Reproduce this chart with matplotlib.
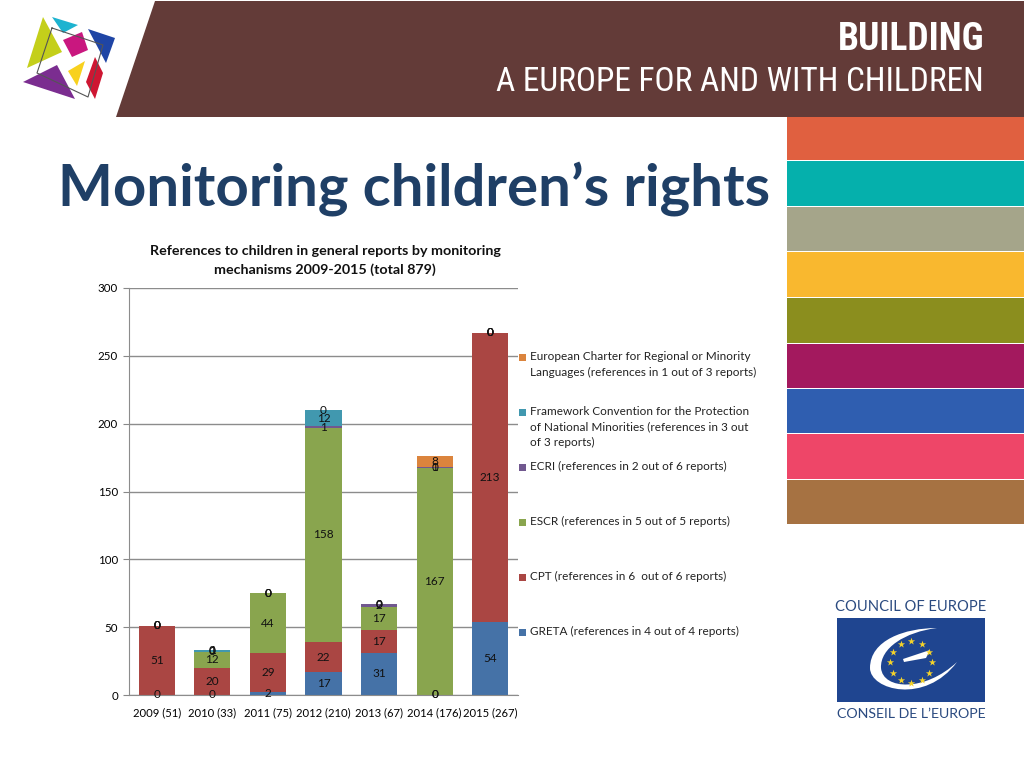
import numpy as np
import matplotlib
matplotlib.use('Agg')
import matplotlib.pyplot as plt
from matplotlib.patches import Polygon, Rectangle, PathPatch
from matplotlib.path import Path

plt.rcParams['font.family'] = ['Lato', 'DejaVu Sans']

categories = ['2009 (51)', '2010 (33)', '2011 (75)', '2012 (210)', '2013 (67)', '2014 (176)', '2015 (267)']
greta = [0, 0, 2, 17, 31, 0, 54]
cpt = [51, 20, 29, 22, 17, 0, 213]
escr = [0, 12, 44, 158, 17, 167, 0]
ecri = [0, 0, 0, 1, 2, 1, 0]
fcnm = [0, 1, 0, 12, 0, 0, 0]
ecrml = [0, 0, 0, 0, 0, 8, 0]

series = [greta, cpt, escr, ecri, fcnm, ecrml]
colors = ['#4572A7', '#AA4643', '#89A54E', '#71588F', '#4198AF', '#DB843D']
legend_labels = [
    'GRETA (references in 4 out of 4 reports)',
    'CPT (references in 6  out of 6 reports)',
    'ESCR (references in 5 out of 5 reports)',
    'ECRI (references in 2 out of 6 reports)',
    'Framework Convention for the Protection\nof National Minorities (references in 3 out\nof 3 reports)',
    'European Charter for Regional or Minority\nLanguages (references in 1 out of 3 reports)',
]
legend_y = [632, 577, 522, 467, 412, 357]

swatch_colors = ['#E06040', '#05B0AC', '#A5A58A', '#F9B82F', '#8B8E1E',
                 '#A3195E', '#2F5EB0', '#EE4668', '#A67242']
swatch_edges = [117, 161, 207, 252, 298, 344, 389, 434, 480, 525]

fig = plt.figure(figsize=(10.24, 7.68), dpi=100)

# page decoration, in pixel coordinates
bg = fig.add_axes([0, 0, 1, 1])
bg.set_xlim(0, 1024)
bg.set_ylim(768, 0)
bg.axis('off')

bg.add_patch(Polygon([(155, 1), (1024, 1), (1024, 117), (116, 117)], color='#633B38', lw=0))
for i, c in enumerate(swatch_colors):
    bg.add_patch(Rectangle((787, swatch_edges[i]), 237, swatch_edges[i + 1] - swatch_edges[i] - 1, color=c, lw=0))

# tangram logo
bg.plot([52, 103, 88, 37, 52], [28, 45, 97, 73, 28], color='#555555', lw=0.8)
logo = [
    ('#C4CF1A', [(43, 17), (62, 52), (27, 68)]),
    ('#1DB3D0', [(52, 17), (78, 25), (63, 33)]),
    ('#C9177F', [(63, 40), (82, 32), (88, 50), (72, 57)]),
    ('#1F45A5', [(88, 29), (115, 38), (106, 63)]),
    ('#F8D11E', [(85, 61), (68, 71), (77, 86)]),
    ('#CE1632', [(95, 57), (103, 73), (95, 99), (86, 82)]),
    ('#7B2D90', [(23, 82), (57, 65), (75, 99)]),
]
for c, pts in logo:
    bg.add_patch(Polygon(pts, color=c, lw=0))

bg.text(984, 50, 'BUILDING', color='white', fontsize=27, fontweight='bold',
        family=['Roboto Condensed', 'Lato'], ha='right', va='baseline')
bg.text(984, 91, 'A EUROPE FOR AND WITH CHILDREN', color='white', fontsize=24,
        family=['Roboto Condensed', 'Lato'], ha='right', va='baseline')

bg.text(58, 189, 'Monitoring children\u2019s rights', color='#1F3F66', fontsize=41.9,
        fontweight='bold', ha='left', va='center')

# Council of Europe logo
bg.text(911, 607, 'COUNCIL OF EUROPE', color='#2A4A80', fontsize=10.6, ha='center', va='center')
bg.text(911, 714, 'CONSEIL DE L\u2019EUROPE', color='#2A4A80', fontsize=10.2, ha='center', va='center')
bg.add_patch(Rectangle((837, 618), 148, 84, color='#1F4590', lw=0))
crescent = Path(
    [(937, 628), (905, 628), (870, 640), (870, 668), (870, 690), (925, 705), (957, 662),
     (925, 692), (883, 690), (881, 668), (880, 648), (905, 632), (937, 628)],
    [Path.MOVETO] + [Path.CURVE4] * 12)
bg.add_patch(PathPatch(crescent, color='white', lw=0))
bg.add_patch(Polygon([(903, 659), (930, 650), (926, 658), (904, 662)], color='white', lw=0))
ang = np.deg2rad(np.arange(0, 360, 30))
bg.scatter(911 + 21 * np.cos(ang), 662 + 21 * np.sin(ang), marker='*', s=30, color='#F4D22A', lw=0, zorder=3)

# legend, one entry at a time because the gaps are uneven
for label, y, c in zip(legend_labels, legend_y, colors):
    bg.add_patch(Rectangle((519, y - 3.5), 7, 7, color=c, lw=0))
    bg.text(529.5, y - 6, label, fontsize=8.5, color='#222222', va='top', ha='left', linespacing=1.5)

# the chart
ax = fig.add_axes([129 / 1024, (768 - 695) / 768, 389 / 1024, 407 / 768])
ax.patch.set_alpha(0)
x = np.arange(len(categories))
bottom = np.zeros(len(categories))
for values, c in zip(series, colors):
    bars = ax.bar(x, values, 0.65, bottom=bottom, color=c, zorder=2)
    ax.bar_label(bars, fmt='%g', label_type='center', fontsize=8.5, color='#111111', zorder=3)
    bottom += np.array(values)

ax.set_xlim(-0.5, 6.5)
ax.set_ylim(0, 300)
ax.set_yticks(range(0, 301, 50))
ax.set_xticks(x)
ax.set_xticklabels(categories, fontsize=8.1)
ax.tick_params(axis='y', labelsize=8.3, color='#888888', length=4, pad=4)
ax.tick_params(axis='x', length=0, pad=9)
ax.grid(axis='y', color='#8C8C8C', lw=1, zorder=0)
ax.set_axisbelow(True)
for side in ['top', 'right']:
    ax.spines[side].set_visible(False)
for side in ['left', 'bottom']:
    ax.spines[side].set_color('#8C8C8C')

fig.text(325 / 1024, 1 - 260.5 / 768, 'References to children in general reports by monitoring\nmechanisms 2009-2015 (total 879)',
         fontsize=10.3, fontweight='bold', ha='center', va='center', linespacing=1.6, color='#111111')

fig.savefig('out.png', dpi=100)
